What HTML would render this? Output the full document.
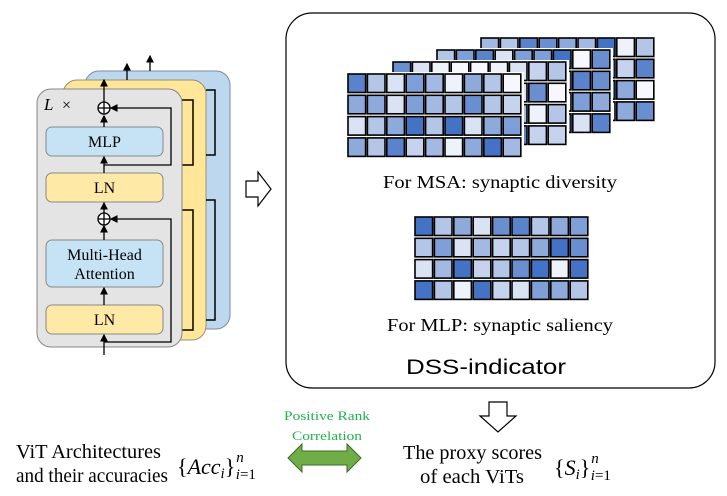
<!DOCTYPE html>
<html><head><meta charset="utf-8"><style>
html,body{margin:0;padding:0;background:#fff;}
svg{display:block;font-family:"Liberation Serif",serif;}
</style></head><body>
<svg id="s" width="727" height="496" viewBox="0 0 727 496" xmlns="http://www.w3.org/2000/svg">
<defs><marker id="ah" markerWidth="6" markerHeight="6" refX="5" refY="3" orient="auto"><path d="M0,0 L6,3 L0,6 z" fill="#000"/></marker></defs>
<rect x="85" y="71" width="145" height="258" rx="14" fill="#bdd7ee" stroke="#7a8ea0" stroke-width="1"/>
<rect x="63" y="80" width="143" height="260" rx="14" fill="#ffe699" stroke="#9a9070" stroke-width="1"/>
<g fill="none" stroke="#000" stroke-width="1.5">
<path d="M206,90 H215 V155 H206"/><path d="M206,200 H215 V320 H206"/>
<path d="M182,100 H193 V165 H182"/><path d="M182,210 H193 V330 H182"/>
</g>
<rect x="37" y="89" width="145" height="258" rx="14" fill="#e4e4e4" stroke="#888" stroke-width="1"/>
<text x="44" y="110" font-size="17" font-style="italic">L</text><text x="62" y="110" font-size="16">×</text>
<rect x="46" y="127" width="117" height="29" rx="6" fill="#c5e3f5" stroke="#888"/>
<text x="104.5" y="147" font-size="16" text-anchor="middle">MLP</text>
<rect x="46" y="173" width="117" height="29" rx="6" fill="#ffe9a6" stroke="#888"/>
<text x="104.5" y="193" font-size="16" text-anchor="middle">LN</text>
<rect x="46" y="240" width="117" height="47" rx="6" fill="#c5e3f5" stroke="#888"/>
<text x="104.5" y="260" font-size="16" text-anchor="middle">Multi-Head</text>
<text x="104.5" y="279" font-size="16" text-anchor="middle">Attention</text>
<rect x="46" y="305" width="117" height="29" rx="6" fill="#ffe9a6" stroke="#888"/>
<text x="104.5" y="325" font-size="16" text-anchor="middle">LN</text>
<g stroke="#000" stroke-width="1.3" fill="none">
<line x1="104" y1="355" x2="104" y2="335" marker-end="url(#ah)"/>
<line x1="104" y1="305" x2="104" y2="288" marker-end="url(#ah)"/>
<line x1="104" y1="240" x2="104" y2="226" marker-end="url(#ah)"/>
<line x1="104" y1="213" x2="104" y2="203" marker-end="url(#ah)"/>
<line x1="104" y1="173" x2="104" y2="157" marker-end="url(#ah)"/>
<line x1="104" y1="127" x2="104" y2="116" marker-end="url(#ah)"/>
<line x1="104" y1="103" x2="104" y2="80" marker-end="url(#ah)"/>
<line x1="127" y1="80" x2="127" y2="64" marker-end="url(#ah)"/>
<line x1="150" y1="71" x2="150" y2="56" marker-end="url(#ah)"/>
<path d="M104,165 H171 V108 H111" marker-end="url(#ah)"/>
<path d="M104,342 H171 V219 H111" marker-end="url(#ah)"/>
<circle cx="104" cy="108" r="6" fill="#fff"/><line x1="98" y1="108" x2="110" y2="108"/><line x1="104" y1="102" x2="104" y2="114"/>
<circle cx="104" cy="219" r="6" fill="#fff"/><line x1="98" y1="219" x2="110" y2="219"/><line x1="104" y1="213" x2="104" y2="225"/>
</g>
<path d="M246,181 H258 V172 L271,189 L258,206 V197 H246 Z" fill="#fff" stroke="#000" stroke-width="1.2"/>
<rect x="286" y="13" width="429" height="375" rx="26" fill="#fff" stroke="#000" stroke-width="1.2"/>
<g id="grids"></g>
<text x="383" y="188" font-size="18" textLength="234" lengthAdjust="spacingAndGlyphs">For MSA: synaptic diversity</text>
<text x="387" y="331" font-size="18" textLength="226" lengthAdjust="spacingAndGlyphs">For MLP: synaptic saliency</text>
<text x="406" y="374" font-size="21" textLength="160" lengthAdjust="spacingAndGlyphs" font-family="Liberation Sans,sans-serif">DSS-indicator</text>
<path d="M489,402 H507 V416 H516 L498,432 L480,416 H489 Z" fill="#fff" stroke="#000" stroke-width="1.2"/>
<text x="284" y="420" font-size="13" fill="#22b04c" textLength="86" lengthAdjust="spacingAndGlyphs">Positive Rank</text>
<text x="292" y="440" font-size="13" fill="#22b04c" textLength="70" lengthAdjust="spacingAndGlyphs">Correlation</text>
<path d="M288,458 L302,444 V451 H347 V444 L361,458 L347,472 V465 H302 V472 Z" fill="#70ad47" stroke="#3b6b2a" stroke-width="1"/>
<text x="16" y="458" font-size="20" textLength="145" lengthAdjust="spacingAndGlyphs">ViT Architectures</text>
<text x="16" y="482" font-size="20" textLength="152" lengthAdjust="spacingAndGlyphs">and their accuracies</text>
<text x="177" y="474" font-size="22">{<tspan font-style="italic">Acc</tspan><tspan font-size="15" font-style="italic" dy="4">i</tspan><tspan dy="-4">}</tspan><tspan font-size="15" font-style="italic" dx="1" dy="-12">n</tspan><tspan font-size="15" font-style="italic" dx="-8" dy="17">i</tspan><tspan font-size="15">=1</tspan></text>
<text x="403" y="459" font-size="20" textLength="139" lengthAdjust="spacingAndGlyphs">The proxy scores</text>
<text x="420" y="483" font-size="20" textLength="104" lengthAdjust="spacingAndGlyphs">of each ViTs</text>
<text x="554" y="475" font-size="22">{<tspan font-style="italic">S</tspan><tspan font-size="15" font-style="italic" dy="4">i</tspan><tspan dy="-4">}</tspan><tspan font-size="15" font-style="italic" dx="1" dy="-12">n</tspan><tspan font-size="15" font-style="italic" dx="-8" dy="17">i</tspan><tspan font-size="15">=1</tspan></text>
</svg>
<script>
var pal=['#4472c4','#5a83cb','#6a8fd0','#7f9fd8','#8eaadb','#a3b8e2','#b4c6e7','#c5d3ee','#dae3f3','#eef2fa','#f6f8fd'];
var g=document.getElementById('grids'),ns='http://www.w3.org/2000/svg';
var seed=7;function rnd(){seed=(seed*9301+49297)%233280;return seed/233280;}
function grid(x,y,vals){
 var b=document.createElementNS(ns,'rect');b.setAttribute('x',x-2);b.setAttribute('y',y-2);b.setAttribute('width',178);b.setAttribute('height',88);b.setAttribute('fill','#fff');g.appendChild(b);
 for(var r=0;r<4;r++)for(var c=0;c<9;c++){var e=document.createElementNS(ns,'rect');
 e.setAttribute('x',x+c*19.4);e.setAttribute('y',y+r*21.3);e.setAttribute('width',17.6);e.setAttribute('height',18.5);
 var v=vals?vals[r*9+c]:Math.floor(rnd()*11);
 e.setAttribute('fill',pal[v]);e.setAttribute('stroke','#000');e.setAttribute('stroke-width','1.6');g.appendChild(e);}
}
grid(481,38);grid(437,50);grid(393,62);
grid(348,74,[1,6,8,3,5,9,4,6,10, 4,4,8,3,5,6,2,6,7, 8,6,4,0,6,0,8,4,3, 4,6,1,7,5,9,4,0,5]);
grid(415,217,[0,6,4,8,2,1,6,4,3, 6,3,8,5,7,6,4,0,2, 8,5,0,7,6,2,0,9,0, 0,6,9,0,7,8,3,4,6]);
</script>
</body></html>
